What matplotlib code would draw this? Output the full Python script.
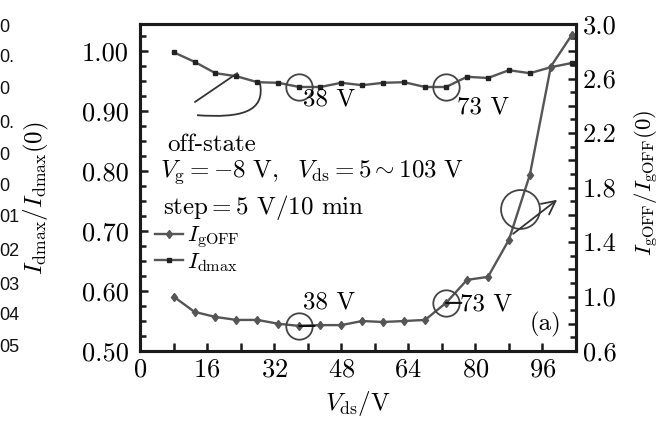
import matplotlib
matplotlib.use('Agg')
import matplotlib.pyplot as plt
import matplotlib.ticker as mticker
from matplotlib.path import Path
from matplotlib.patches import PathPatch
import numpy as np

plt.rcParams['font.family'] = ['cmr10', 'DejaVu Serif']
plt.rcParams['mathtext.fontset'] = 'cm'
plt.rcParams['axes.formatter.use_mathtext'] = True
plt.rcParams['axes.unicode_minus'] = False

# drain stress voltage (V), step 5 V
vds = [8, 13, 18, 23, 28, 33, 38, 43, 48, 53, 58, 63, 68, 73, 78, 83, 88, 93, 98, 103]
# I_dmax / I_dmax(0), left axis
idmax = [0.998, 0.982, 0.963, 0.958, 0.948, 0.947, 0.940, 0.940, 0.947, 0.943,
         0.947, 0.948, 0.940, 0.940, 0.957, 0.955, 0.968, 0.963, 0.973, 0.980]
# I_gOFF / I_gOFF(0), right axis
igoff = [1.00, 0.887, 0.85, 0.828, 0.828, 0.80, 0.784, 0.79, 0.79, 0.82,
         0.813, 0.82, 0.828, 0.953, 1.122, 1.144, 1.416, 1.894, 2.688, 2.92]

left_ticks = [0.50, 0.60, 0.70, 0.80, 0.90, 1.00]
right_ticks = [0.6, 0.8, 1.0, 1.2, 1.4, 1.6, 1.8, 2.0, 2.2, 2.4, 2.6, 2.8, 3.0]
x_ticks = [0, 16, 32, 48, 64, 80, 96]
marked = [38, 73]

fs = 18
fig = plt.figure(figsize=(6.64, 4.21), dpi=100)
ax = fig.add_axes([140/664, 1-351/421, 436/664, 327/421])
ax2 = ax.twinx()

lc = '#555555'
l1, = ax2.plot(vds, igoff, color=lc, lw=1.7, marker='d', ms=4.5,
               mfc='#555555', mec='#555555', label=r'$I_{\rm gOFF}$')
l2, = ax.plot(vds, idmax, color=lc, lw=1.7, marker='s', ms=3.5,
              mfc='#222222', mec='#222222', label=r'$I_{\rm dmax}$')

ax.set_xlim(0, 104)
ax.set_ylim(0.5, 1.045)
ax2.set_ylim(0.6, 3.0)

ax.set_xticks(x_ticks)
ax.xaxis.set_minor_locator(mticker.MultipleLocator(8))
ax.set_yticks(left_ticks)
ax.yaxis.set_major_formatter(mticker.FormatStrFormatter('%.2f'))
ax.yaxis.set_minor_locator(mticker.MultipleLocator(0.025))
ax2.set_yticks(right_ticks)
ax2.yaxis.set_major_formatter(mticker.FuncFormatter(
    lambda v, p: '%.1f' % v if round((v - 0.6) / 0.2) % 2 == 0 else ''))
ax2.yaxis.set_minor_locator(mticker.MultipleLocator(0.1))

for a in (ax, ax2):
    for s in a.spines.values():
        s.set_linewidth(2.2)
        s.set_color('#1a1a1a')
    a.tick_params(which='both', direction='in', width=1.8, color='#1a1a1a',
                  labelsize=19, top=False)
    a.tick_params(which='major', length=6)
    a.tick_params(which='minor', length=4)
ax.tick_params(axis='x', which='both', length=6, pad=5)
ax.tick_params(axis='y', which='both', pad=8)
ax2.tick_params(axis='y', which='both', pad=5)

# circles around the marked points
for v in marked:
    i = vds.index(v)
    ax.plot(v, idmax[i], 'o', ms=19, mfc='none', mec='#444444', mew=1.3)
    ax2.plot(v, igoff[i], 'o', ms=19, mfc='none', mec='#444444', mew=1.3)
    ax2.annotate('', xy=(v, igoff[i]), xytext=(11, 0), textcoords='offset points',
                 arrowprops=dict(arrowstyle='-', color='#111111', lw=1.5,
                                 shrinkA=0, shrinkB=0))

# big circle with arrow to right axis
ax2.plot(90.7, 1.64, 'o', ms=28, mfc='none', mec='#444444', mew=1.3)
ax2.annotate('', xy=(99.5, 1.71), xytext=(89.0, 1.46),
             arrowprops=dict(arrowstyle='->', color='#333333', lw=1.3,
                             mutation_scale=24, shrinkA=0, shrinkB=0))
# loop with arrow to left axis
loop = Path([(28.6, 0.947), (30.0, 0.898), (24.0, 0.888), (13.6, 0.893)],
            [Path.MOVETO, Path.CURVE4, Path.CURVE4, Path.CURVE4])
ax.add_patch(PathPatch(loop, fill=False, ec='#333333', lw=1.3))
ax.annotate('', xy=(13.1, 0.915), xytext=(23.2, 0.963),
            arrowprops=dict(arrowstyle='-', color='#333333', lw=1.3,
                            shrinkA=0, shrinkB=0))

tk = dict(transform=ax.transAxes, fontsize=fs, va='center', ha='left')
ax.text(0.374, 0.768, '38 V', **tk)
ax.text(0.727, 0.746, '73 V', **tk)
ax.text(0.374, 0.147, '38 V', **tk)
ax.text(0.734, 0.141, '73 V', **tk)
ax.text(0.894, 0.080, '(a)', **tk)
ax.text(0.062, 0.630, 'off-state', **tk)
ax.text(0.046, 0.547, r'$V_{\rm g}=-8\ {\rm V},\ \ V_{\rm ds}=5{\sim}103\ {\rm V}$', **tk)
ax.text(0.053, 0.440, r'step$=5$ V/10 min', **tk)

ax.legend(handles=[l1, l2], loc='upper left', bbox_to_anchor=(0.035, 0.385),
          frameon=False, fontsize=16.5, handlelength=1.2, handletextpad=0.2,
          labelspacing=0.0, borderpad=0, borderaxespad=0)

fig.text(36/664, 1-198/421, r'$I_{\rm dmax}/I_{\rm dmax}(0)$', rotation=90,
         ha='center', va='center', fontsize=fs)
fig.text(647/664, 1-183/421, r'$I_{\rm gOFF}/I_{\rm gOFF}(0)$', rotation=90,
         ha='center', va='center', fontsize=16.5)
fig.text(358/664, 1-404/421, r'$V_{\rm ds}/{\rm V}$', ha='center', va='center',
         fontsize=fs)

# clipped tick labels of the neighbouring panel at the left edge
edge_labels = ['0', '0.', '0', '0.', '0', '0', '01', '02', '03', '04', '05']
edge_y = [27, 58, 90, 123, 155, 187, 217, 252, 285, 315, 348]
for s, y in zip(edge_labels, edge_y):
    fig.text(-1/664, 1-y/421, s, ha='left', va='center', fontsize=13,
             family='Liberation Sans', color='#111111')

fig.savefig('out.png', dpi=100)
